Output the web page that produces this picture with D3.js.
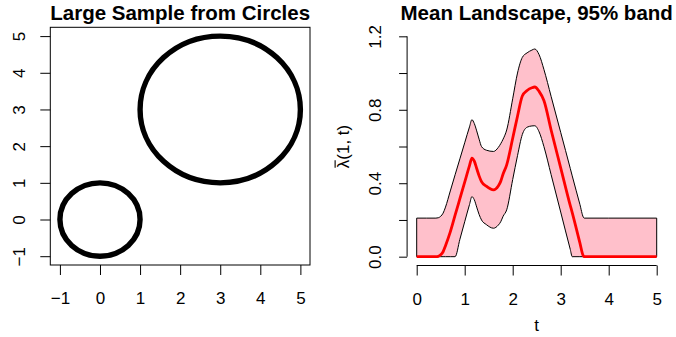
<!DOCTYPE html>
<html>
<head>
<meta charset="utf-8">
<script src="https://cdn.jsdelivr.net/npm/d3@7"></script>
<style>
  html, body { margin: 0; padding: 0; background: #fff; }
  svg text { font-family: "Liberation Sans", Arial, Helvetica, sans-serif; fill: #000; }
</style>
</head>
<body>
<div class="canva"></div>
<script>
// left panel: the two circles the sample is drawn from
const circleCx = [0, 3];
const circleCy = [0, 3];
const circleR = [1, 2];
const leftTicks = [-1, 0, 1, 2, 3, 4, 5];

// right panel: mean landscape and 95% band
const tValues = [0, 0.2, 0.4, 0.45, 0.5, 0.55, 0.6, 0.7, 0.8, 0.9, 1.0, 1.1, 1.15, 1.2, 1.25, 1.3, 1.35, 1.45, 1.6, 1.7, 1.75, 1.8, 1.875, 2.0, 2.1, 2.2, 2.3, 2.4, 2.46, 2.55, 2.65, 2.8, 3.0, 3.2, 3.24, 3.4, 3.47, 3.49, 4.0, 5.0];
const meanValues = [0, 0, 0, 0.002, 0.01, 0.027, 0.06, 0.135, 0.226, 0.316, 0.406, 0.496, 0.537, 0.52, 0.48, 0.44, 0.409, 0.384, 0.364, 0.385, 0.41, 0.45, 0.5, 0.645, 0.765, 0.875, 0.905, 0.92, 0.924, 0.9, 0.85, 0.69, 0.484, 0.278, 0.24, 0.075, 0.005, 0, 0, 0];
const upperValues = [0.21, 0.21, 0.21, 0.212, 0.22, 0.237, 0.27, 0.358, 0.446, 0.533, 0.62, 0.707, 0.746, 0.725, 0.685, 0.64, 0.6, 0.58, 0.573, 0.595, 0.615, 0.64, 0.69, 0.86, 1.0, 1.085, 1.11, 1.125, 1.131, 1.1, 1.02, 0.873, 0.677, 0.48, 0.44, 0.285, 0.216, 0.21, 0.21, 0.21];
const lowerValues = [0, 0, 0, 0, 0, 0, 0, 0, 0, 0.095, 0.19, 0.284, 0.327, 0.31, 0.27, 0.23, 0.2, 0.175, 0.155, 0.172, 0.19, 0.22, 0.255, 0.42, 0.55, 0.665, 0.705, 0.712, 0.713, 0.68, 0.6, 0.447, 0.243, 0.039, 0, 0, 0, 0, 0, 0];
const rightXTicks = [0, 1, 2, 3, 4, 5];
const rightYTicks = [0, 0.2, 0.4, 0.6, 0.8, 1.0, 1.2];
const rightYLabels = ["0.0", "", "0.4", "", "0.8", "", "1.2"];

const axisFont = 17;
const titleFont = 20.5;

const svg = d3.select(".canva").append("svg")
    .attr("width", 676)
    .attr("height", 337);

// ---------- left panel ----------
const xL = d3.scaleLinear().domain([-1.24, 5.24]).range([50.3, 310]);
const yL = d3.scaleLinear().domain([-1.24, 5.24]).range([265, 27.3]);

const circles = circleCx.map((c, i) => ({ cx: c, cy: circleCy[i], r: circleR[i] }));

svg.append("g").selectAll("ellipse")
    .data(circles)
    .enter().append("ellipse")
    .attr("cx", d => xL(d.cx))
    .attr("cy", d => yL(d.cy))
    .attr("rx", d => xL(d.cx + d.r) - xL(d.cx))
    .attr("ry", d => yL(d.cy) - yL(d.cy + d.r))
    .attr("fill", "none")
    .attr("stroke", "#000")
    .attr("stroke-width", 5.4);

svg.append("rect")
    .attr("x", xL.range()[0])
    .attr("y", yL.range()[1])
    .attr("width", xL.range()[1] - xL.range()[0])
    .attr("height", yL.range()[0] - yL.range()[1])
    .attr("fill", "none")
    .attr("stroke", "#000")
    .attr("stroke-width", 1);

function styleAxis(g) {
    g.selectAll("line").attr("stroke", "#000").attr("stroke-width", 1);
    g.selectAll("text").style("font-size", axisFont + "px").attr("fill", "#000");
    g.attr("font-family", null).attr("font-size", null);
}

const minus = d => d < 0 ? "\u2212" + Math.abs(d) : String(d);

const lxAxis = svg.append("g")
    .attr("transform", `translate(0,${yL.range()[0]})`)
    .call(d3.axisBottom(xL).tickValues(leftTicks).tickSize(10).tickSizeOuter(0).tickFormat(minus));
lxAxis.select(".domain").remove();
styleAxis(lxAxis);
lxAxis.selectAll("text").attr("y", 33).attr("dy", "0.36em");

const lyAxis = svg.append("g")
    .attr("transform", `translate(${xL.range()[0]},0)`)
    .call(d3.axisLeft(yL).tickValues(leftTicks).tickSize(10).tickSizeOuter(0).tickFormat(minus));
lyAxis.select(".domain").remove();
styleAxis(lyAxis);
lyAxis.selectAll("text")
    .attr("x", 0).attr("y", 0).attr("dy", "0.36em")
    .attr("text-anchor", "middle")
    .attr("transform", "translate(-31,0) rotate(-90)");

svg.append("text")
    .attr("x", (xL.range()[0] + xL.range()[1]) / 2)
    .attr("y", 19.5)
    .attr("text-anchor", "middle")
    .style("font-size", titleFont + "px")
    .style("font-weight", "bold")
    .text("Large Sample from Circles");

// ---------- right panel ----------
const xR = d3.scaleLinear().domain([-0.2, 5.2]).range([407.1, 666.3]);
const yR = d3.scaleLinear().domain([-0.048, 1.248]).range([265.5, 27.5]);

const band = tValues.map((t, i) => ({ t: t, mean: meanValues[i], lo: lowerValues[i], hi: upperValues[i] }));

svg.append("path")
    .datum(band)
    .attr("d", d3.area().curve(d3.curveMonotoneX)
        .x(d => xR(d.t)).y0(d => yR(d.lo)).y1(d => yR(d.hi)))
    .attr("fill", "#FFC0CB")
    .attr("stroke", "#000")
    .attr("stroke-width", 1);

svg.append("path")
    .datum(band)
    .attr("d", d3.line().curve(d3.curveMonotoneX)
        .x(d => xR(d.t)).y(d => yR(d.mean)))
    .attr("fill", "none")
    .attr("stroke", "#FF0000")
    .attr("stroke-width", 2.8);

const rxAxis = svg.append("g")
    .attr("transform", `translate(0,${yR.range()[0]})`)
    .call(d3.axisBottom(xR).tickValues(rightXTicks).tickSize(10).tickSizeOuter(0).tickFormat(d3.format("d")));
rxAxis.select(".domain").remove();
rxAxis.append("line")
    .attr("x1", xR(rightXTicks[0])).attr("x2", xR(rightXTicks[rightXTicks.length - 1]));
styleAxis(rxAxis);
rxAxis.selectAll("text").attr("y", 33).attr("dy", "0.36em");

const ryAxis = svg.append("g")
    .attr("transform", `translate(${xR.range()[0]},0)`)
    .call(d3.axisLeft(yR).tickValues(rightYTicks).tickSize(8).tickSizeOuter(0).tickFormat((d, i) => rightYLabels[i]));
ryAxis.select(".domain").remove();
ryAxis.append("line")
    .attr("y1", yR(rightYTicks[0])).attr("y2", yR(rightYTicks[rightYTicks.length - 1]));
styleAxis(ryAxis);
ryAxis.selectAll("text")
    .attr("x", 0).attr("y", 0).attr("dy", "0.36em")
    .attr("text-anchor", "middle")
    .attr("transform", "translate(-32,0) rotate(-90)");

svg.append("text")
    .attr("x", (xR.range()[0] + xR.range()[1]) / 2)
    .attr("y", 19.5)
    .attr("text-anchor", "middle")
    .style("font-size", titleFont + "px")
    .style("font-weight", "bold")
    .text("Mean Landscape, 95% band");

svg.append("text")
    .attr("x", (xR.range()[0] + xR.range()[1]) / 2)
    .attr("y", 325)
    .attr("dy", "0.36em")
    .attr("text-anchor", "middle")
    .style("font-size", axisFont + "px")
    .text("t");

// y label: lambda with a bar over it
const ylab = svg.append("g")
    .attr("transform", `translate(343,${(yR.range()[0] + yR.range()[1]) / 2}) rotate(-90)`);
const ylabText = ylab.append("text")
    .attr("dy", "0.36em")
    .attr("text-anchor", "middle")
    .style("font-size", axisFont + "px")
    .text("\u03BB(1, t)");
const lam = ylabText.node().getExtentOfChar(0);
ylab.append("line")
    .attr("x1", lam.x + 0.5).attr("x2", lam.x + lam.width - 0.5)
    .attr("y1", lam.y + 1).attr("y2", lam.y + 1)
    .attr("stroke", "#000")
    .attr("stroke-width", 1.1);
</script>
</body>
</html>
